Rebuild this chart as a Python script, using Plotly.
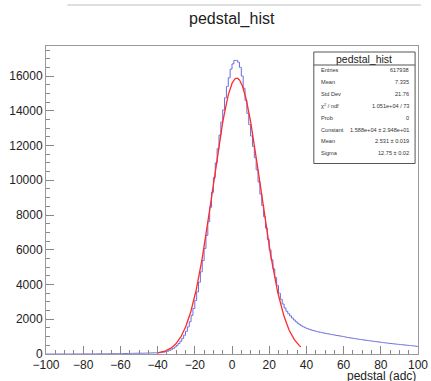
import numpy as np
import plotly.graph_objects as go

# ---------------- data ----------------
hist_name = "pedstal_hist"
x_label = "pedstal (adc)"
x_min, x_max, bin_width = -100, 100, 1

# bin contents, bins of width 1 from -100 to 100
counts = (
    [0] * 15
    + [3, 4, 5, 5, 6, 6, 7, 7, 8, 8, 9, 9, 10, 11, 11, 12]
    + [13, 14, 15, 16, 17, 18, 19, 21, 22, 24]
    + [26, 28, 30, 32, 34, 37, 40, 43, 46, 50]
    + [45, 48, 51, 54, 57, 60, 63, 66, 70, 74]
    + [80, 92, 110, 135, 160, 205, 255, 320, 395, 490]
    + [600, 735, 895, 1080, 1300, 1560, 1860, 2220, 2620, 3080]
    + [3580, 4130, 4730, 5380, 6080, 6830, 7620, 8450, 9300, 10150]
    + [11000, 11820, 12600, 13350, 14050, 14750, 15400, 15900, 16400, 16700]
    + [16900, 16900, 16800, 16500, 16000, 15300, 14600, 13850, 13200, 12550]
    + [11950, 11300, 10600, 9900, 9200, 8550, 7900, 7250, 6600, 5990]
    + [5420, 4900, 4400, 3950, 3500, 3150, 2880, 2650, 2460, 2320]
    + [2190, 2070, 1960, 1860, 1770, 1690, 1620, 1560, 1510, 1465]
    + [1425, 1390, 1360, 1330, 1300, 1275, 1250, 1228, 1206, 1185]
    + [1165, 1145, 1125, 1105, 1085, 1066, 1048, 1030, 1012, 995]
    + [965, 948, 931, 914, 897, 880, 864, 848, 832, 816]
    + [800, 785, 770, 755, 740, 725, 711, 697, 683, 669]
    + [655, 642, 629, 616, 603, 591, 579, 567, 556, 545]
    + [534, 523, 512, 501, 490, 479, 468, 457, 446, 432]
)

# fit parameters (gaus) and fit range
fit_constant = 1.588e4
fit_mean = 2.531
fit_sigma = 12.75
fit_range = (-40, 37)

stats_labels = ["Entries", "Mean", "Std Dev", "\u03c7<sup>2</sup> / ndf", "Prob",
                "Constant", "Mean", "Sigma"]
stats_values = ["617938", "7.335", "21.76", "1.051e+04 / 73", "0",
                "1.588e+04 \u00b1 2.948e+01", "2.531 \u00b1 0.019", "12.75 \u00b1 0.02"]

y_max = 17730

# ---------------- derived ----------------
edges = np.arange(x_min, x_max + bin_width, bin_width)
centers = 0.5 * (edges[:-1] + edges[1:])
xs = np.concatenate([[edges[0]], centers, [edges[-1]]])
ys = np.concatenate([[counts[0]], counts, [counts[-1]]])

xf = np.linspace(fit_range[0], fit_range[1], 400)
yf = fit_constant * np.exp(-0.5 * ((xf - fit_mean) / fit_sigma) ** 2)

# ---------------- layout geometry ----------------
W, H = 431, 381
L, R, T, B = 46, 3, 46, 27
PW, PH = W - L - R, H - T - B


def px(x):
    return (x - L) / PW


def py(y):
    return (H - B - y) / PH


FONT = "Liberation Sans, Arial, Helvetica, sans-serif"

fig = go.Figure()
fig.add_trace(go.Scatter(x=xs, y=ys, mode="lines", line=dict(color="#6a6ae0", width=1, shape="hvh"),
                         hoverinfo="skip", showlegend=False))
fig.add_trace(go.Scatter(x=xf, y=yf, mode="lines", line=dict(color="#ff2a2a", width=1.3),
                         hoverinfo="skip", showlegend=False))

axis_common = dict(showline=True, linecolor="#999999", linewidth=1, mirror=True,
                   ticks="inside", tickcolor="#888888", tickwidth=1, showgrid=False,
                   zeroline=False, ticklabeloverflow="allow",
                   tickfont=dict(family=FONT, size=12, color="#222222"))

fig.update_xaxes(range=[x_min, x_max], dtick=20, tick0=0, ticklen=8,
                 minor=dict(dtick=5, ticklen=4, ticks="inside", tickcolor="#888888"),
                 **axis_common)
fig.update_yaxes(range=[0, y_max], dtick=2000, tick0=0, ticklen=8, tickformat="d",
                 minor=dict(dtick=500, ticklen=4, ticks="inside", tickcolor="#888888"),
                 **axis_common)

shapes = [
    dict(type="line", xref="paper", yref="paper", x0=px(68), x1=px(431), y0=py(5), y1=py(5),
         line=dict(color="#d4d4d4", width=1.5)),
    dict(type="rect", xref="paper", yref="paper", x0=px(321), x1=px(425), y0=py(163.5), y1=py(52),
         line=dict(color="#555555", width=1), fillcolor="white", layer="above"),
    dict(type="line", xref="paper", yref="paper", x0=px(321), x1=px(425), y0=py(65), y1=py(65),
         line=dict(color="#555555", width=1), layer="above"),
]

annotations = [
    dict(text=hist_name, xref="paper", yref="paper", x=px(237), y=py(19), showarrow=False,
         xanchor="center", yanchor="middle", font=dict(family=FONT, size=16, color="#222222")),
    dict(text=x_label, xref="paper", yref="paper", x=px(428), y=py(376), showarrow=False,
         xanchor="right", yanchor="middle", font=dict(family=FONT, size=12, color="#222222")),
    dict(text=hist_name, xref="paper", yref="paper", x=px(373), y=py(58.5), showarrow=False,
         xanchor="center", yanchor="middle", font=dict(family=FONT, size=10.5, color="#222222")),
]
row_y0, row_dy = 70, 11.9
for i, (lab, val) in enumerate(zip(stats_labels, stats_values)):
    yy = row_y0 + i * row_dy
    annotations.append(dict(text=lab, xref="paper", yref="paper", x=px(326.5), y=py(yy),
                            showarrow=False, xanchor="left", yanchor="middle",
                            font=dict(family=FONT, size=5.6, color="#333333")))
    annotations.append(dict(text=val, xref="paper", yref="paper", x=px(421), y=py(yy),
                            showarrow=False, xanchor="right", yanchor="middle",
                            font=dict(family=FONT, size=5.6, color="#333333")))

fig.update_layout(width=W, height=H, autosize=False,
                  margin=dict(l=L, r=R, t=T, b=B, pad=0),
                  paper_bgcolor="white", plot_bgcolor="white",
                  shapes=shapes, annotations=annotations, showlegend=False)

fig.write_html("out.html", config={"displayModeBar": False})
